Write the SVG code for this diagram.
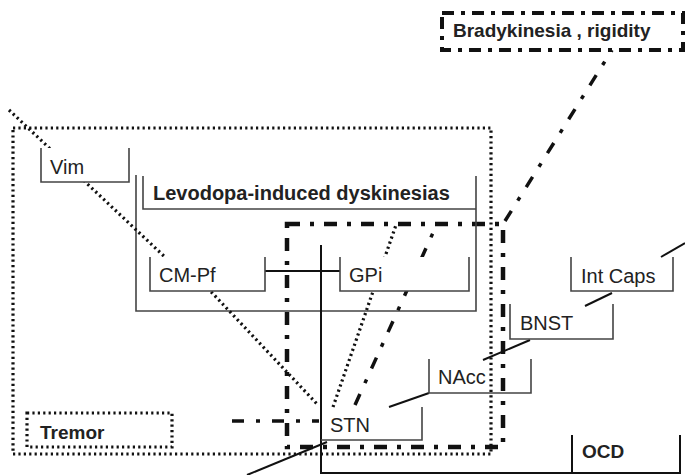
<svg xmlns="http://www.w3.org/2000/svg" width="685" height="475" viewBox="0 0 685 475">
<defs>
<style>
.dot{fill:none;stroke:#111;stroke-width:3.2;stroke-dasharray:2.2 3.2}
.dd{fill:none;stroke:#111;stroke-width:4.5;stroke-dasharray:13 10 4 10}
.ddb{fill:none;stroke:#111;stroke-width:4;stroke-dasharray:12 7 4 7}
.ddl{fill:none;stroke:#111;stroke-width:3.5;stroke-dasharray:12 12 4 12}
.sol{fill:none;stroke:#111;stroke-width:2}
.br{fill:none;stroke:#444;stroke-width:1.6}
.bg{fill:#fff;stroke:none}
text{font-family:"Liberation Sans",Arial,sans-serif;font-size:20px;fill:#222}
.b{font-weight:bold}
</style>
</defs>
<rect width="685" height="475" fill="#fff"/>
<g id="region-tremor"><rect class="dot" x="13" y="128" width="478" height="326"/></g>
<g id="region-stn"><rect class="dd" x="287" y="224" width="216" height="223"/></g>
<g id="levodopa">
<path class="br" d="M136 175 V311 H476 V176"/>
<path class="br" d="M143 176 V209 H476"/>
<text class="b" x="153" y="200">Levodopa-induced dyskinesias</text>
</g>
<g id="connectors">
<path class="dot" d="M9 110 L184 275"/>
<path class="dot" d="M200 280 L318 405"/>
<path class="dot" d="M333 407 L396 225"/>
<path class="ddl" d="M355 405 L437 224"/>
<path class="ddl" d="M505 221 L612 50"/>
<path class="ddl" d="M232 421 H319"/>
<path class="sol" d="M265 271 H340"/>
<path class="sol" d="M321 245 V473 H572"/>
<path class="sol" d="M327 442 L247 475"/>
<path class="sol" d="M389 407 L429 393"/>
<path class="sol" d="M483 360 L530 340"/>
<path class="sol" d="M585 306 L612 293"/>
<path class="sol" d="M661 257 L685 243"/>
</g>
<g id="bradykinesia">
<rect class="ddb" x="442" y="13" width="241" height="37"/>
<text class="b" x="453" y="37" style="font-size:19px">Bradykinesia , rigidity</text>
</g>
<g id="tremor">
<rect class="dot" x="27" y="413" width="145" height="34"/>
<text class="b" x="40" y="439" style="font-size:19px">Tremor</text>
</g>
<g id="vim">
<rect class="bg" x="41" y="148" width="88" height="34"/>
<path class="br" d="M41 148 V182 H129 V148"/>
<text x="50" y="174">Vim</text>
</g>
<g id="cmpf">
<rect class="bg" x="150" y="257" width="115" height="34"/>
<path class="br" d="M150 257 V291 H265 V257"/>
<text x="159" y="282">CM-Pf</text>
</g>
<g id="gpi">
<rect class="bg" x="340" y="257" width="129" height="34"/>
<path class="br" d="M340 257 V291 H469 V257"/>
<text x="349" y="282">GPi</text>
</g>
<g id="intcaps">
<path class="br" d="M571 257 V291 H673 V257"/>
<text x="581" y="283">Int Caps</text>
</g>
<g id="bnst">
<path class="br" d="M510 304 V339 H613 V304"/>
<text x="520" y="330">BNST</text>
</g>
<g id="nacc">
<path class="br" d="M429 359 V393 H531 V359"/>
<text x="438" y="384">NAcc</text>
</g>
<g id="stn">
<path class="br" d="M321 440 H422 V407"/>
<text x="330" y="432">STN</text>
</g>
<g id="ocd">
<path class="sol" d="M572 435 V473 H680 V435"/>
<text class="b" x="582" y="458" style="font-size:19px">OCD</text>
</g>
</svg>
